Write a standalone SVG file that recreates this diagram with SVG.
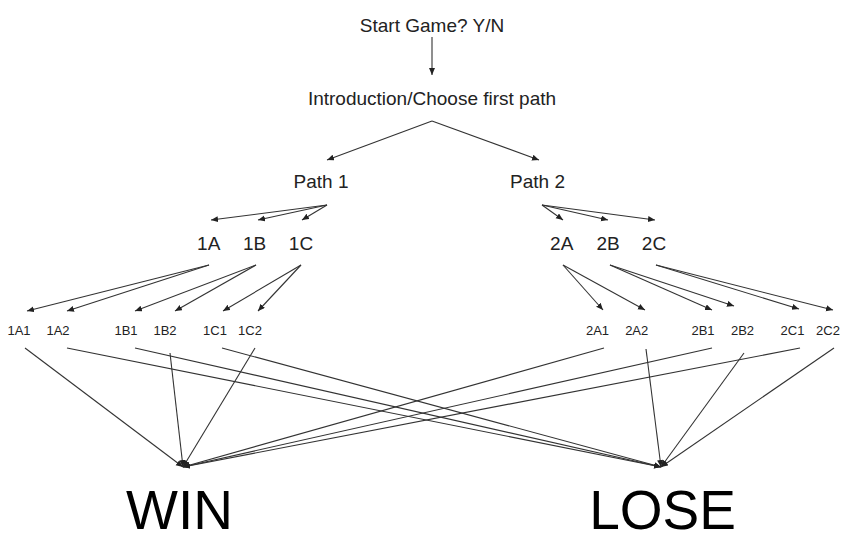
<svg xmlns="http://www.w3.org/2000/svg" width="849" height="541" viewBox="0 0 849 541">
<style>
text{font-family:"Liberation Sans",Arial,sans-serif;fill:#222;text-anchor:middle}
.m{font-size:19px}
.s{font-size:13px}
.b{font-size:55px;fill:#000}
#connectors line{stroke:#333;stroke-width:1.1;fill:none;marker-end:url(#ah)}
</style>
<defs>
<marker id="ah" markerUnits="userSpaceOnUse" markerWidth="10" markerHeight="8" refX="7" refY="3" orient="auto">
<path d="M0,0 L7,3 L0,6 Z" fill="#222"/>
</marker>
</defs>
<rect width="849" height="541" fill="#fff"/>
<g id="connectors">
<line x1="432" y1="37" x2="432" y2="75"/>
<line x1="432" y1="121" x2="327" y2="160"/>
<line x1="432" y1="121" x2="539" y2="160"/>
<line x1="327" y1="205" x2="211" y2="220"/>
<line x1="327" y1="205" x2="258" y2="220"/>
<line x1="327" y1="205" x2="302" y2="220"/>
<line x1="542" y1="205" x2="563" y2="220"/>
<line x1="542" y1="205" x2="608" y2="220"/>
<line x1="542" y1="205" x2="655" y2="220"/>
<line x1="209" y1="265" x2="27" y2="311"/>
<line x1="209" y1="265" x2="67" y2="311"/>
<line x1="256" y1="265" x2="135" y2="311"/>
<line x1="256" y1="265" x2="175" y2="311"/>
<line x1="301" y1="265" x2="223" y2="311"/>
<line x1="301" y1="265" x2="258" y2="311"/>
<line x1="563" y1="265" x2="603" y2="310"/>
<line x1="563" y1="265" x2="645" y2="310"/>
<line x1="610" y1="265" x2="712" y2="310"/>
<line x1="610" y1="265" x2="734" y2="306"/>
<line x1="656" y1="265" x2="799" y2="309"/>
<line x1="656" y1="265" x2="833" y2="310"/>
<line x1="25" y1="348" x2="183" y2="467"/>
<line x1="67" y1="348" x2="661" y2="467"/>
<line x1="135" y1="348" x2="661" y2="467"/>
<line x1="170" y1="353" x2="183" y2="467"/>
<line x1="222" y1="348" x2="661" y2="467"/>
<line x1="255" y1="348" x2="183" y2="467"/>
<line x1="604" y1="348" x2="183" y2="467"/>
<line x1="646" y1="349" x2="661" y2="467"/>
<line x1="712" y1="348" x2="183" y2="467"/>
<line x1="744" y1="353" x2="661" y2="467"/>
<line x1="800" y1="348" x2="183" y2="467"/>
<line x1="834" y1="348" x2="661" y2="467"/>
</g>
<g id="start"><text class="m" x="432" y="31.5">Start Game? Y/N</text></g>
<g id="intro"><text class="m" x="432" y="105">Introduction/Choose first path</text></g>
<g id="path1"><text class="m" x="321" y="188">Path 1</text></g>
<g id="path2"><text class="m" x="537.5" y="188">Path 2</text></g>
<g id="n1A"><text class="m" x="208.7" y="250">1A</text></g>
<g id="n1B"><text class="m" x="254.5" y="250">1B</text></g>
<g id="n1C"><text class="m" x="301" y="250">1C</text></g>
<g id="n2A"><text class="m" x="561.7" y="250">2A</text></g>
<g id="n2B"><text class="m" x="608" y="250">2B</text></g>
<g id="n2C"><text class="m" x="654" y="250">2C</text></g>
<g id="n1A1"><text class="s" x="19" y="335">1A1</text></g>
<g id="n1A2"><text class="s" x="58" y="335">1A2</text></g>
<g id="n1B1"><text class="s" x="126" y="335">1B1</text></g>
<g id="n1B2"><text class="s" x="165" y="335">1B2</text></g>
<g id="n1C1"><text class="s" x="215" y="335">1C1</text></g>
<g id="n1C2"><text class="s" x="250" y="335">1C2</text></g>
<g id="n2A1"><text class="s" x="597.5" y="335">2A1</text></g>
<g id="n2A2"><text class="s" x="636.7" y="335">2A2</text></g>
<g id="n2B1"><text class="s" x="703" y="335">2B1</text></g>
<g id="n2B2"><text class="s" x="742.5" y="335">2B2</text></g>
<g id="n2C1"><text class="s" x="792.5" y="335">2C1</text></g>
<g id="n2C2"><text class="s" x="828" y="335">2C2</text></g>
<g id="win"><text class="b" x="179.5" y="529">WIN</text></g>
<g id="lose"><text class="b" x="662.5" y="529">LOSE</text></g>
</svg>
